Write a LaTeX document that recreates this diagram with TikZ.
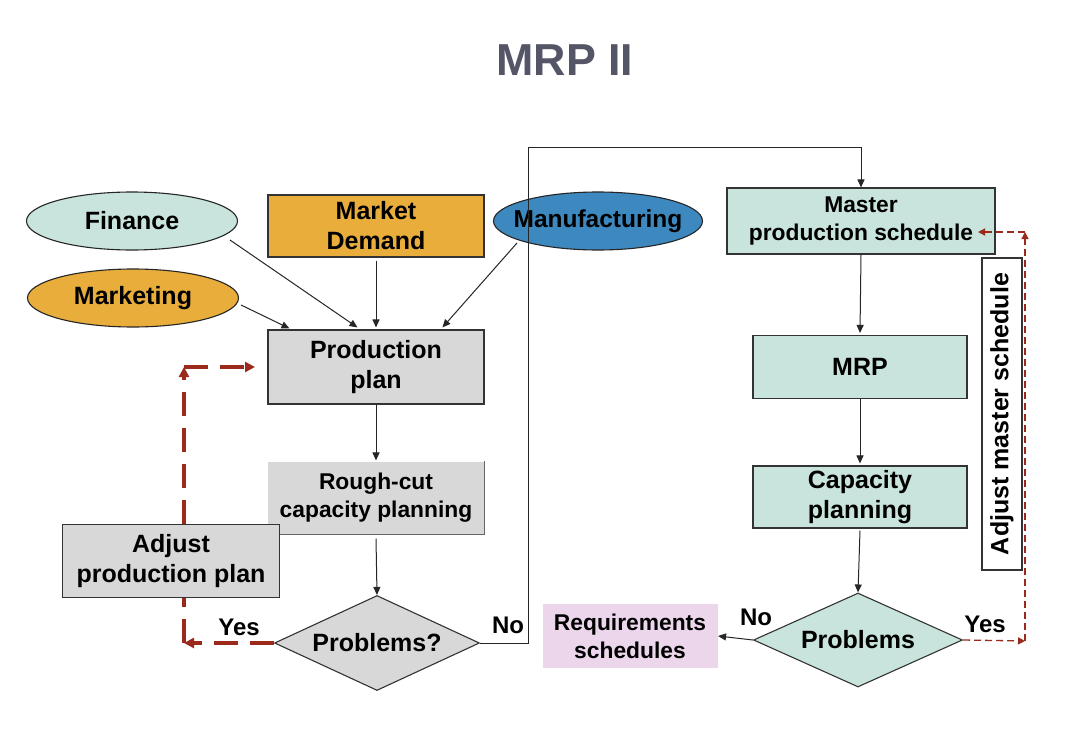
\documentclass[tikz,border=0pt]{standalone}
\usepackage{fontspec}
\setmainfont{Liberation Sans}
\usetikzlibrary{arrows.meta,shapes.geometric,calc}
\definecolor{tealc}{RGB}{201,228,220}
\definecolor{orangec}{RGB}{233,173,60}
\definecolor{bluec}{RGB}{61,136,191}
\definecolor{grayc}{RGB}{216,216,216}
\definecolor{pinkc}{RGB}{236,214,236}
\definecolor{redc}{RGB}{155,42,28}
\definecolor{titlec}{RGB}{84,86,104}
\newcommand\bigf{\fontsize{25}{30}\selectfont\bfseries}
\newcommand\midf{\fontsize{22.8}{28}\selectfont\bfseries}
\newcommand\titf{\fontsize{44.8}{50}\selectfont\bfseries}
\tikzset{
  box/.style={rectangle, draw=black!80, line width=1.1pt, align=center, inner sep=0pt, font=\bigf},
  oval/.style={ellipse, draw=black!85, line width=1.1pt, align=center, inner sep=0pt, minimum width=211pt, minimum height=58pt, font=\bigf},
  dia/.style={diamond, draw=black!80, line width=1.1pt, align=center, inner sep=0pt, aspect=2.15, font=\bigf},
  arr/.style={draw=black!85, line width=1pt, -{Triangle[length=8pt,width=7pt]}},
  line/.style={draw=black!85, line width=1pt},
  rdthick/.style={draw=redc, line width=3.6pt, dash pattern=on 24pt off 12pt},
  rdthin/.style={draw=redc, line width=1.3pt, dash pattern=on 7pt off 4pt},
  rtip/.style={-{Triangle[length=10pt,width=10pt]}},
  rtips/.style={-{Triangle[length=7pt,width=7pt]}},
  lab/.style={font=\fontsize{24}{28}\selectfont\bfseries, inner sep=0pt}
}
\begin{document}
\begin{tikzpicture}[x=1pt,y=-1pt]
\useasboundingbox[fill=white] (0,0) rectangle (1071,736);
% title
\node[text=titlec, font=\titf] (title) at (565,60) {MRP II};
% left column
\node[oval, fill=tealc] (fin) at (132,221) {Finance};
\node[oval, fill=orangec] (mkt) at (133,298) {Marketing};
\node[box, fill=orangec, minimum width=216pt, minimum height=62pt] (md) at (376,226) {Market\\Demand};
\node[oval, fill=bluec, minimum width=209pt, inner xsep=-16pt, font=\fontsize{24.5}{28}\selectfont\bfseries] (mf) at (598,221) {Manufacturing};
\node[box, fill=grayc, minimum width=216pt, minimum height=74pt] (pp) at (376,367) {Production\\plan};
\node[box, draw=none, fill=grayc, minimum width=216pt, minimum height=72pt, font=\midf] (rc) at (376,498) {Rough-cut\\capacity planning};
\draw[line, draw=black!60] (rc.north east) -- (rc.south east) -- (rc.south west);
\node[box, fill=grayc, minimum width=217pt, minimum height=73pt] (adj) at (171,561) {Adjust\\production plan};
\node[dia, fill=grayc, minimum width=205pt, minimum height=95pt] (p1) at (377,643) {Problems?};
% right column
\node[box, fill=tealc, minimum width=268pt, minimum height=66pt, font=\midf] (mps) at (861,221) {Master\\production schedule};
\node[box, fill=tealc, minimum width=214pt, minimum height=63pt] (mrp) at (860,367) {MRP};
\node[box, fill=tealc, minimum width=214pt, minimum height=62pt] (cap) at (860,497) {Capacity\\planning};
\node[dia, fill=tealc, minimum width=209pt, minimum height=94pt] (p2) at (858,640) {Problems};
\node[box, draw=none, fill=pinkc, minimum width=175pt, minimum height=64pt, font=\midf] (req) at (630,636) {Requirements\\schedules};
\node[box, fill=white, rotate=90, minimum width=312pt, minimum height=40pt] (ams) at (1002,414) {Adjust master schedule};
% labels
\node[lab] (yes1) at (239,627) {Yes};
\node[lab] (no1) at (508,625) {No};
\node[lab] (no2) at (756,617) {No};
\node[lab] (yes2) at (985,624) {Yes};
% black connectors
\draw[arr] ($(fin.center)+(98,19)$) -- ($(pp.north west)+(90,-2)$);
\draw[arr] ($(mkt.east)+(2,7)$) -- ($(pp.north west)+(22,-1)$);
\draw[arr] ($(md.south)+(0,3)$) -- ($(pp.north)+(0,-2)$);
\draw[arr] ($(mf.center)+(-81,22)$) -- ($(pp.north west)+(175,-2)$);
\draw[arr] (pp.south) -- ($(rc.north)+(0,-1)$);
\draw[arr] ($(rc.south)+(0,4)$) -- (p1.north);
\coordinate (nc) at (528,147);
\draw[arr] (p1.east) -| (nc) -| (mps.north);
\draw[arr] (mps.south) -- ($(mrp.north)+(0,-2)$);
\draw[arr] (mrp.south) -- ($(cap.north)+(0,-2)$);
\draw[arr] ($(cap.south)+(0,2)$) -- (p2.north);
\draw[arr] (p2.west) -- (req.east);
% red dashed (left)
\coordinate (lc1) at (184,643);
\coordinate (lc2) at (184,367);
\coordinate (lc3) at (255,367);
\draw[rdthick, rtip] (p1.west) -- (lc1);
\draw[rdthick] (lc1) -- (adj.south -| lc1);
\draw[rdthick, rtip] (adj.north -| lc1) -- (lc2);
\draw[rdthick, rtip] (lc2) -- (lc3);
% red dashed (right)
\coordinate (rc1) at (1025,641);
\coordinate (rc2) at (1025,232);
\coordinate (rc3) at (978,232);
\draw[rdthin, rtips] (p2.east) -- (rc1);
\draw[rdthin, rtips] (rc1) -- (rc2);
\draw[rdthin, rtips] (rc2) -- (rc3);
\end{tikzpicture}
\end{document}
